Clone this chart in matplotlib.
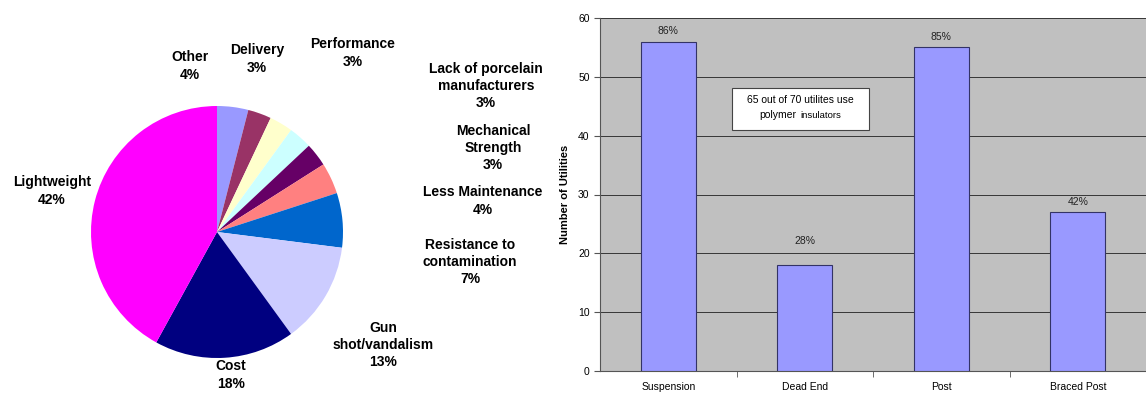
import numpy as np
import matplotlib.pyplot as plt
from matplotlib.patches import Rectangle

plt.rcParams["font.family"] = ["Liberation Sans", "DejaVu Sans"]

# pie: reasons for choosing polymer insulators
reasons = ["Other", "Delivery", "Performance", "Lack of porcelain\nmanufacturers",
           "Mechanical\nStrength", "Less Maintenance", "Resistance to\ncontamination",
           "Gun\nshot/vandalism", "Cost", "Lightweight"]
shares = [4, 3, 3, 3, 3, 4, 7, 13, 18, 42]
pie_colors = ["#9999ff", "#993366", "#ffffcc", "#ccffff", "#660066",
              "#ff8080", "#0066cc", "#ccccff", "#000080", "#ff00ff"]

# bars: utilities using each insulator type
types = ["Suspension", "Dead End", "Post", "Braced Post"]
counts = [56, 18, 55, 27]
pct_labels = ["86%", "28%", "85%", "42%"]

fig = plt.figure(figsize=(11.46, 3.98), dpi=100)

# ---- pie ----
ax1 = fig.add_axes([0, 0, 560 / 1146, 1])
wedges, texts = ax1.pie(shares, colors=pie_colors, startangle=90, counterclock=False,
                        labels=[f"{r}\n{s}%" for r, s in zip(reasons, shares)],
                        textprops=dict(fontsize=10, fontweight="bold", ha="center",
                                       va="center", linespacing=1.3))
ax1.set_xlim(-217 / 126, (560 - 217) / 126)
ax1.set_ylim(-(398 - 232) / 126, 232 / 126)
ax1.set_aspect("auto")
ax1.axis("off")

# label spots picked by hand (pixel centres of the original)
label_px = [(190, 66), (257, 59), (353, 53), (486, 86), (493, 148),
            (483, 201), (470, 262), (383, 345), (231, 375), (52, 191)]
for t, (px, py) in zip(texts, label_px):
    t.set_position(((px - 217) / 126, (232 - py) / 126))
    t.set_ha("center")
    t.set_va("center")

# ---- bars ----
ax2 = fig.add_axes([600 / 1146, 1 - 371 / 398, 546 / 1146, 353 / 398])
ax2.set_facecolor("#c0c0c0")
x = np.arange(len(types))
bars = ax2.bar(x, counts, width=0.4, color="#9999ff", edgecolor="#333366",
               linewidth=0.8, zorder=3)
gaps = [1.0, 3.2, 1.0, 0.9]
for b, lab, g in zip(bars, pct_labels, gaps):
    ax2.text(b.get_x() + b.get_width() / 2, b.get_height() + g, lab,
             ha="center", va="bottom", fontsize=7.5, color="#222222")

ax2.set_xlim(-0.5, 3.5)
ax2.set_ylim(0, 60)
ax2.set_yticks(range(0, 61, 10))
ax2.yaxis.grid(True, color="#202020", linewidth=0.6, zorder=0)
ax2.set_axisbelow(True)
ax2.set_xticks(x)
ax2.set_xticklabels(types, fontsize=7.5)
ax2.set_xticks(np.arange(0.5, 3.5, 1), minor=True)
ax2.tick_params(axis="x", which="major", length=0, pad=8)
ax2.tick_params(axis="x", which="minor", length=4, color="#555555")
ax2.tick_params(axis="y", labelsize=7.5, length=4, color="#555555")
for s in ["top", "right"]:
    ax2.spines[s].set_visible(False)
ax2.spines["left"].set_color("#555555")
ax2.spines["bottom"].set_color("#555555")
ax2.set_ylabel("Number of Utilities", fontsize=8, fontweight="bold", labelpad=6)

ax2.add_patch(Rectangle((0.47, 41.0), 1.0, 7.1, facecolor="white", edgecolor="#444444",
                        linewidth=0.8, zorder=5))
ax2.text(0.97, 46.1, "65 out of 70 utilites use", ha="center", va="center",
         fontsize=7.5, zorder=6)
ax2.text(0.80, 43.5, "polymer", ha="center", va="center", fontsize=7.5, zorder=6)
ax2.text(1.12, 43.5, "insulators", ha="center", va="center", fontsize=6.8, zorder=6)

fig.savefig("out.png", dpi=100)
